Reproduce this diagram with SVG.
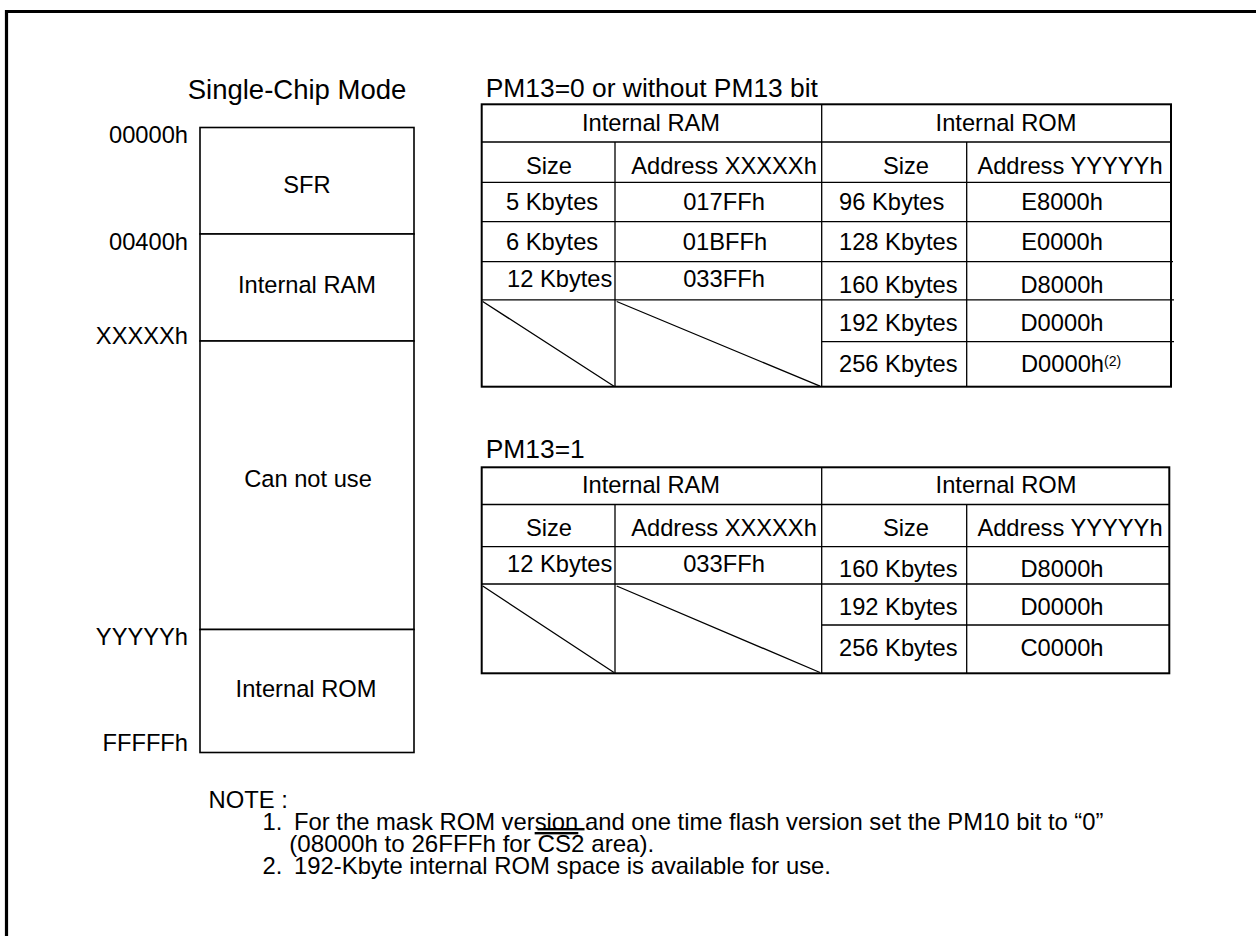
<svg xmlns="http://www.w3.org/2000/svg" width="1256" height="936" viewBox="0 0 1256 936">
<style>
text{font-family:"Liberation Sans",Arial,Helvetica,sans-serif;fill:#000;font-size:23.7px}
.m{text-anchor:middle}
.e{text-anchor:end}
.title{font-size:27.5px}
.sub{font-size:26.4px}
.note{font-size:23.8px}
.sup{font-size:14px}
.ul{text-decoration:underline}
.ol{text-decoration:overline}
.frame{fill:none;stroke:#000;stroke-width:3.2}
.box{fill:#fff;stroke:#000;stroke-width:1.6}
.outer{fill:none;stroke:#000;stroke-width:2}
.ln{fill:none;stroke:#000;stroke-width:1.3}
</style>
<rect width="1256" height="936" fill="#fff"/>
<path class="frame" d="M6.5,936 V11.5 H1256"/>

<g id="memory-map">
<text class="title m" x="297" y="99">Single-Chip Mode</text>
<g id="addr-labels">
<text class="e" x="188" y="143">00000h</text>
<text class="e" x="188" y="250">00400h</text>
<text class="e" x="188" y="344">XXXXXh</text>
<text class="e" x="188" y="645">YYYYYh</text>
<text class="e" x="188" y="751">FFFFFh</text>
</g>
<g id="sfr"><rect class="box" x="200" y="127.5" width="214" height="106.5"/><text class="m" x="307" y="193">SFR</text></g>
<g id="iram"><rect class="box" x="200" y="234" width="214" height="107"/><text class="m" x="307" y="293">Internal RAM</text></g>
<g id="cannot"><rect class="box" x="200" y="341" width="214" height="288.5"/><text class="m" x="308" y="487">Can not use</text></g>
<g id="irom"><rect class="box" x="200" y="629.5" width="214" height="123"/><text class="m" x="306" y="697">Internal ROM</text></g>
</g>

<g id="table1">
<text class="sub" x="485.7" y="97">PM13=0 or without PM13 bit</text>
<rect class="outer" x="481.7" y="104.3" width="689.3" height="282.4"/>
<path class="ln" d="M821.7,104.3 V386.7 M615,142 V386.7 M966.7,142 V386.7 M481.7,142 H1171 M481.7,182.3 H1171 M481.7,221.7 H1171 M481.7,261.7 H1173 M481.7,299.8 H1174 M821.7,341.7 H1174"/>
<path class="ln" d="M482.7,301.5 L614,386.2 M616.7,301.5 L820,386.2"/>
<text class="m" x="651" y="131">Internal RAM</text>
<text class="m" x="1006" y="131">Internal ROM</text>
<text class="m" x="549" y="174">Size</text>
<text class="m" x="724" y="174">Address XXXXXh</text>
<text class="m" x="906" y="174">Size</text>
<text class="m" x="1070" y="174">Address YYYYYh</text>
<text x="506" y="210">5 Kbytes</text>
<text class="m" x="724" y="210">017FFh</text>
<text x="506" y="250">6 Kbytes</text>
<text class="m" x="725" y="250">01BFFh</text>
<text x="507" y="287">12 Kbytes</text>
<text class="m" x="724" y="287">033FFh</text>
<text x="839" y="210">96 Kbytes</text>
<text class="m" x="1062" y="210">E8000h</text>
<text x="839" y="250">128 Kbytes</text>
<text class="m" x="1062" y="250">E0000h</text>
<text x="839" y="292.5">160 Kbytes</text>
<text class="m" x="1062" y="292.5">D8000h</text>
<text x="839" y="331">192 Kbytes</text>
<text class="m" x="1062" y="331">D0000h</text>
<text x="839" y="371.5">256 Kbytes</text>
<text x="1021" y="371.5">D0000h<tspan class="sup" dy="-6">(2)</tspan></text>
</g>

<g id="table2">
<text class="sub" x="485.7" y="458">PM13=1</text>
<rect class="outer" x="481.7" y="467.3" width="687.6" height="206"/>
<path class="ln" d="M821.7,467.3 V673.3 M615,504.5 V673.3 M966.7,504.5 V673.3 M481.7,504.5 H1169.3 M481.7,546.7 H1169.3 M481.7,584 H1169.3 M821.7,625 H1169.3"/>
<path class="ln" d="M482.7,586 L614,672.5 M616.7,586 L820,672.5"/>
<text class="m" x="651" y="493.3">Internal RAM</text>
<text class="m" x="1006" y="493.3">Internal ROM</text>
<text class="m" x="549" y="536">Size</text>
<text class="m" x="724" y="536">Address XXXXXh</text>
<text class="m" x="906" y="536">Size</text>
<text class="m" x="1070" y="536">Address YYYYYh</text>
<text x="507" y="571.7">12 Kbytes</text>
<text class="m" x="724" y="571.7">033FFh</text>
<text x="839" y="576.7">160 Kbytes</text>
<text class="m" x="1062" y="576.7">D8000h</text>
<text x="839" y="615">192 Kbytes</text>
<text class="m" x="1062" y="615">D0000h</text>
<text x="839" y="656">256 Kbytes</text>
<text class="m" x="1062" y="656">C0000h</text>
</g>

<g id="notes">
<text class="note" x="208.5" y="808">NOTE :</text>
<text class="note" x="262.5" y="830">1.</text>
<text class="note" x="294" y="830">For the mask ROM ver<tspan class="ul">sion</tspan> and one time flash version set the PM10 bit to “0”</text>
<text class="note" x="289.3" y="852" textLength="365" lengthAdjust="spacingAndGlyphs">(08000h to 26FFFh for <tspan class="ol">CS2</tspan> area).</text>
<text class="note" x="262.5" y="874">2.</text>
<text class="note" x="294" y="874" textLength="537" lengthAdjust="spacingAndGlyphs">192-Kbyte internal ROM space is available for use.</text>
</g>
</svg>
